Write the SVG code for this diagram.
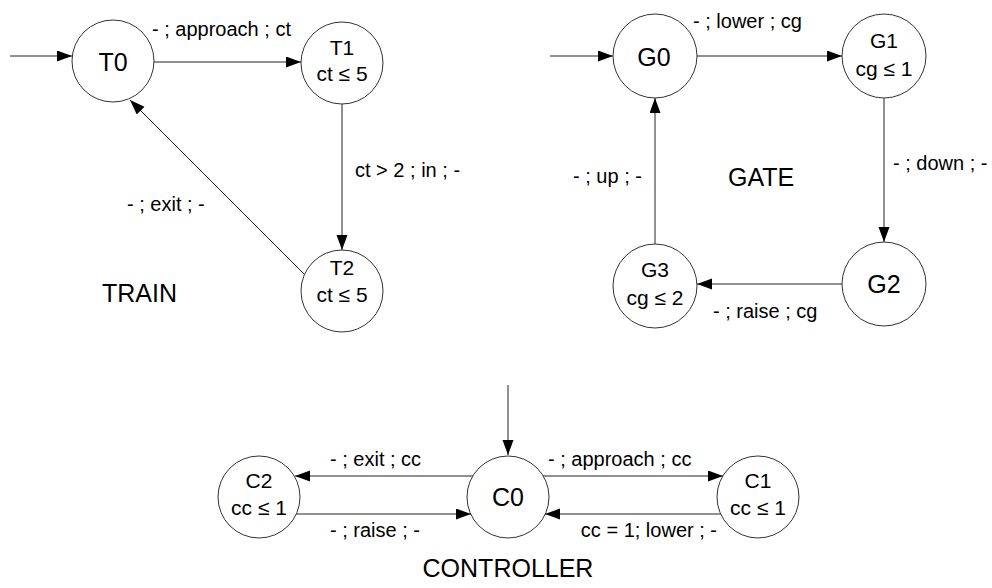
<svg xmlns="http://www.w3.org/2000/svg" width="992" height="588" viewBox="0 0 992 588">
  <style>
    .state { fill: #ffffff; stroke: #333333; stroke-width: 1; }
    .edge { fill: none; stroke: #222222; stroke-width: 1; marker-end: url(#arrow); }
    text { font-family: "Liberation Sans", Arial, sans-serif; fill: #000000; }
    .lbl { font-size: 20px; }
    .big { font-size: 25px; text-anchor: middle; }
    .two { font-size: 21px; text-anchor: middle; }
    .title { font-size: 25px; }
  </style>
  <defs>
    <marker id="arrow" markerUnits="userSpaceOnUse" markerWidth="16" markerHeight="12" refX="15" refY="5.5" orient="auto">
      <path d="M0,0 L15,5.5 L0,11 Z" fill="#000000"/>
    </marker>
  </defs>
  <rect width="992" height="588" fill="#ffffff"/>

  <!-- connectors -->
  <g id="edges">
    <!-- TRAIN -->
    <line class="edge" x1="10" y1="56" x2="72" y2="56"/>
    <line class="edge" x1="154" y1="62" x2="301" y2="62"/>
    <line class="edge" x1="342" y1="104" x2="342" y2="250"/>
    <line class="edge" x1="305" y1="275" x2="130" y2="100"/>
    <!-- GATE -->
    <line class="edge" x1="550" y1="56" x2="613" y2="56"/>
    <line class="edge" x1="697" y1="56" x2="842" y2="56"/>
    <line class="edge" x1="884" y1="98" x2="884" y2="242"/>
    <line class="edge" x1="842" y1="284" x2="697" y2="284"/>
    <line class="edge" x1="655" y1="244" x2="655" y2="98"/>
    <!-- CONTROLLER -->
    <line class="edge" x1="508" y1="385" x2="508" y2="455"/>
    <line class="edge" x1="473" y1="476" x2="295" y2="476"/>
    <line class="edge" x1="296" y1="514" x2="471" y2="514"/>
    <line class="edge" x1="543" y1="476" x2="723" y2="476"/>
    <line class="edge" x1="721" y1="514" x2="545" y2="514"/>
  </g>

  <!-- edge labels -->
  <g id="edge-labels" class="lbl">
    <text x="152" y="36">- ; approach ; ct</text>
    <text x="355" y="177">ct &gt; 2 ; in ; -</text>
    <text x="127" y="211">- ; exit ; -</text>
    <text x="693" y="28">- ; lower ; cg</text>
    <text x="893" y="170">- ; down ; -</text>
    <text x="713" y="318">- ; raise ; cg</text>
    <text x="573" y="183">- ; up ; -</text>
    <text x="330" y="466">- ; exit ; cc</text>
    <text x="330" y="537">- ; raise ; -</text>
    <text x="548" y="466">- ; approach ; cc</text>
    <text x="717" y="537" text-anchor="end">cc = 1; lower ; -</text>
  </g>

  <!-- automaton titles -->
  <text class="title" x="102" y="302">TRAIN</text>
  <text class="title" x="728" y="186">GATE</text>
  <text class="title" x="508" y="577" text-anchor="middle">CONTROLLER</text>

  <!-- TRAIN states -->
  <g id="T0">
    <circle class="state" cx="113" cy="61" r="41"/>
    <text class="big" x="113" y="71">T0</text>
  </g>
  <g id="T1">
    <circle class="state" cx="342" cy="63" r="41"/>
    <text class="two" x="342" y="55">T1</text>
    <text class="two" x="342" y="81">ct ≤ 5</text>
  </g>
  <g id="T2">
    <circle class="state" cx="342" cy="291" r="41"/>
    <text class="two" x="342" y="275">T2</text>
    <text class="two" x="342" y="302">ct ≤ 5</text>
  </g>

  <!-- GATE states -->
  <g id="G0">
    <circle class="state" cx="655" cy="56" r="42"/>
    <text class="big" x="654" y="66">G0</text>
  </g>
  <g id="G1">
    <circle class="state" cx="884" cy="56" r="42"/>
    <text class="two" x="884" y="48">G1</text>
    <text class="two" x="884" y="76">cg ≤ 1</text>
  </g>
  <g id="G2">
    <circle class="state" cx="884" cy="284" r="42"/>
    <text class="big" x="884" y="293">G2</text>
  </g>
  <g id="G3">
    <circle class="state" cx="655" cy="286" r="42"/>
    <text class="two" x="655" y="277">G3</text>
    <text class="two" x="655" y="305">cg ≤ 2</text>
  </g>

  <!-- CONTROLLER states -->
  <g id="C0">
    <circle class="state" cx="508" cy="497" r="41"/>
    <text class="big" x="508" y="506">C0</text>
  </g>
  <g id="C2">
    <circle class="state" cx="259" cy="497" r="41"/>
    <text class="two" x="259" y="488">C2</text>
    <text class="two" x="259" y="515">cc ≤ 1</text>
  </g>
  <g id="C1">
    <circle class="state" cx="758" cy="497" r="41"/>
    <text class="two" x="758" y="488">C1</text>
    <text class="two" x="758" y="515">cc ≤ 1</text>
  </g>
</svg>
